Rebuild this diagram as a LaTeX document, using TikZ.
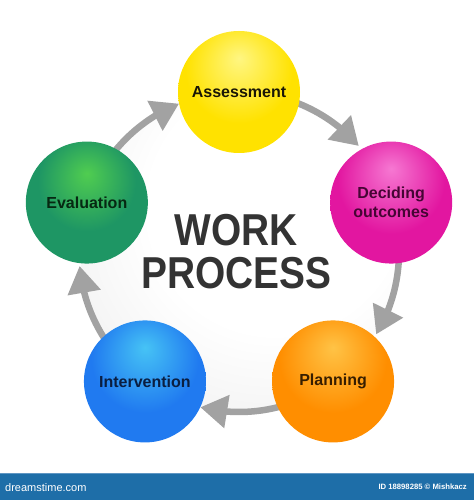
\documentclass[tikz,border=0pt]{standalone}
\usepackage{fontspec}
\setmainfont{Liberation Sans}
\usetikzlibrary{arrows.meta,bending}

\definecolor{ringgray}{RGB}{162,162,162}
\definecolor{titlegray}{RGB}{51,51,51}
\definecolor{barblue}{RGB}{30,110,168}
\definecolor{barline}{RGB}{95,150,195}
\definecolor{diskA}{RGB}{255,255,255}
\definecolor{diskB}{RGB}{232,232,232}
\definecolor{diskC}{RGB}{214,214,214}

\definecolor{yA}{RGB}{255,246,130}\definecolor{yB}{RGB}{255,226,0}\definecolor{yC}{RGB}{245,182,0}
\definecolor{mA}{RGB}{246,120,210}\definecolor{mB}{RGB}{226,22,160}\definecolor{mC}{RGB}{198,14,138}
\definecolor{oA}{RGB}{255,195,70}\definecolor{oB}{RGB}{255,142,0}\definecolor{oC}{RGB}{240,112,0}
\definecolor{bA}{RGB}{70,195,245}\definecolor{bB}{RGB}{32,122,240}\definecolor{bC}{RGB}{22,80,215}
\definecolor{gA}{RGB}{80,205,80}\definecolor{gB}{RGB}{30,150,100}\definecolor{gC}{RGB}{14,110,118}

\definecolor{tY}{RGB}{25,22,5}
\definecolor{tM}{RGB}{70,5,52}
\definecolor{tO}{RGB}{55,30,0}
\definecolor{tB}{RGB}{10,30,65}
\definecolor{tG}{RGB}{6,40,18}

\pgfdeclareradialshading{sphY}{\pgfpoint{0bp}{14bp}}{color(0bp)=(yA); color(22bp)=(yB); color(46bp)=(yB); color(64bp)=(yC)}
\pgfdeclareradialshading{sphM}{\pgfpoint{0bp}{14bp}}{color(0bp)=(mA); color(22bp)=(mB); color(46bp)=(mB); color(64bp)=(mC)}
\pgfdeclareradialshading{sphO}{\pgfpoint{0bp}{14bp}}{color(0bp)=(oA); color(22bp)=(oB); color(46bp)=(oB); color(64bp)=(oC)}
\pgfdeclareradialshading{sphB}{\pgfpoint{0bp}{14bp}}{color(0bp)=(bA); color(22bp)=(bB); color(46bp)=(bB); color(64bp)=(bC)}
\pgfdeclareradialshading{sphG}{\pgfpoint{0bp}{12bp}}{color(0bp)=(gA); color(20bp)=(gB); color(42bp)=(gB); color(64bp)=(gC)}
\pgfdeclareradialshading{diskshade}{\pgfpoint{8bp}{10bp}}{color(0bp)=(diskA); color(20bp)=(diskA); color(46bp)=(diskB); color(70bp)=(diskC)}

\pgfdeclarelayer{back}
\pgfdeclarelayer{mid}
\pgfsetlayers{back,mid,main}

\begin{document}
\begin{tikzpicture}[x=1pt,y=1pt,
  sphere/.style={circle, minimum size=122pt, inner sep=0pt, shade,
    font=\fontsize{16}{19}\selectfont\bfseries, align=center},
  flow/.style={draw=ringgray, line width=6.5pt, line cap=butt,
    -{Triangle[length=27pt,width=32pt]}},
  title/.style={font=\fontsize{44.7}{43}\selectfont\bfseries, text=titlegray,
    align=center, xscale=.87},
  barlabel/.style={text=white, inner sep=0pt}
]
\useasboundingbox (0,0) rectangle (474,500);

\coordinate (C) at (239,248);

% spheres
\node[sphere, shading=sphY, text=tY] (A) at ([shift={(90:160)}]C) {Assessment};
\node[sphere, shading=sphM, text=tM] (D) at ([shift={(18:160)}]C) {Deciding\\outcomes};
\node[sphere, shading=sphO, text=tO] (P) at ([shift={(-54:160)}]C) {Planning};
\node[sphere, shading=sphB, text=tB] (I) at ([shift={(-126:160)}]C) {Intervention};
\node[sphere, shading=sphG, text=tG] (E) at ([shift={(162:160)}]C) {Evaluation};

% title
\node[title] (T) at (236.5,248) {WORK\\PROCESS};

% cycle arrows
\begin{pgfonlayer}{mid}
\draw[flow] (A.center) arc[start angle=90,  end angle=41.5,  radius=160pt];
\draw[flow] (D.center) arc[start angle=18,  end angle=-31,   radius=160pt];
\draw[flow] (P.center) arc[start angle=-54, end angle=-104,  radius=160pt];
\draw[flow] (I.center) arc[start angle=-126,end angle=-175,  radius=160pt];
\draw[flow] (E.center) arc[start angle=162, end angle=112,   radius=160pt];
\end{pgfonlayer}

% inner disk
\begin{pgfonlayer}{back}
\shade[shading=diskshade] (C) circle (158);
\end{pgfonlayer}

% bottom bar
\fill[barblue] (0,0) rectangle (474,27);
\fill[barline] (0,26) rectangle (474,27.2);
\node[barlabel, font=\fontsize{11}{11}\selectfont, anchor=west] (logo) at (5,12.5) {dreamstime.com};
\node[barlabel, font=\fontsize{7.7}{8}\selectfont\bfseries, anchor=east] (credit) at (467,13) {ID 18898285 © Mishkacz};
\end{tikzpicture}
\end{document}
